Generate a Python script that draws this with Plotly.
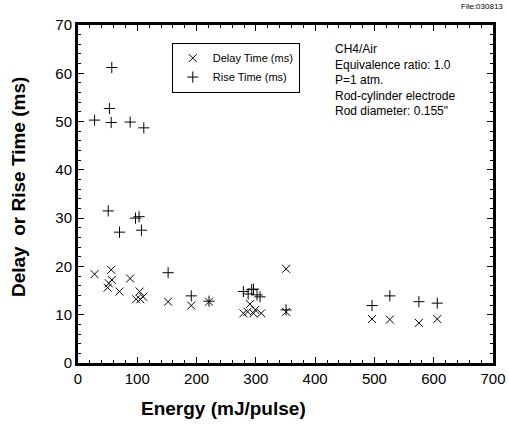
import plotly.graph_objects as go

delay_energy = [28, 50, 52, 56, 57, 70, 88, 98, 104, 105, 110, 152, 191, 221,
                279, 286, 290, 296, 299, 309, 351, 351, 496, 526, 575, 606]
delay_time = [18.4, 15.6, 16.5, 19.3, 17.2, 14.8, 17.5, 13.2, 14.8, 13.2, 13.7,
              12.7, 11.9, 12.7, 10.3, 10.6, 12.2, 10.3, 11.0, 10.3, 19.5, 10.6,
              9.1, 9.0, 8.3, 9.1]

rise_energy = [28, 51, 53, 56, 57, 70, 88, 97, 103, 107, 111, 152, 191, 221,
               279, 287, 293, 296, 302, 307, 351, 496, 526, 575, 606]
rise_time = [50.3, 31.5, 52.7, 49.8, 61.2, 27.1, 49.9, 30.0, 30.3, 27.5, 48.7,
             18.7, 13.9, 12.8, 14.8, 14.3, 15.2, 15.3, 14.1, 13.7, 11.0, 11.9,
             13.9, 12.7, 12.4]

info_lines = ["CH4/Air", "Equivalence ratio: 1.0", "P=1 atm.",
              "Rod-cylinder electrode", "Rod diameter: 0.155\""]

FONT = "Liberation Sans, Arial, sans-serif"

fig = go.Figure()
fig.add_trace(go.Scatter(
    x=delay_energy, y=delay_time, mode="markers", name="Delay Time (ms)",
    marker=dict(symbol="x-thin", size=8, color="black",
                line=dict(color="black", width=1))))
fig.add_trace(go.Scatter(
    x=rise_energy, y=rise_time, mode="markers", name="Rise Time (ms)",
    marker=dict(symbol="cross-thin", size=8, color="black",
                line=dict(color="black", width=1))))

axis_common = dict(
    showgrid=False, zeroline=False, showline=True, linecolor="black",
    linewidth=3, mirror="allticks", ticks="inside", ticklen=6, tickwidth=1,
    tickcolor="black", tickfont=dict(family=FONT, size=15, color="black"),
    automargin=False,
)

fig.update_layout(
    width=509, height=425,
    margin=dict(l=78, r=16, t=25, b=62),
    paper_bgcolor="white", plot_bgcolor="white",
    font=dict(family=FONT, color="black"),
    xaxis=dict(range=[0, 700], dtick=100, tick0=0,
               minor=dict(dtick=20, ticklen=3, ticks="inside", tickcolor="black"),
               **axis_common),
    yaxis=dict(range=[0, 70], dtick=10, tick0=0,
               minor=dict(dtick=2, ticklen=3, ticks="inside", tickcolor="black"),
               **axis_common),
    showlegend=True,
    legend=dict(x=0.226, y=0.948, xanchor="left", yanchor="top",
                bordercolor="black", borderwidth=1, bgcolor="white",
                font=dict(family=FONT, size=11, color="black"),
                tracegroupgap=4, itemwidth=30),
)

fig.add_annotation(text="Energy (mJ/pulse)", xref="paper", yref="paper",
                   x=(223 - 78) / 415, y=-0.135, xanchor="center", yanchor="middle",
                   showarrow=False,
                   font=dict(family=FONT, size=19, color="black", weight="bold"))
fig.add_annotation(text="Delay\u00a0\u00a0or Rise Time (ms)", xref="paper", yref="paper",
                   x=-0.145, y=0.52, xanchor="center", yanchor="middle",
                   textangle=-90, showarrow=False,
                   font=dict(family=FONT, size=19, color="black", weight="bold"))
fig.add_annotation(text="File:030813", xref="paper", yref="paper",
                   x=1.03, y=1.055, xanchor="right", yanchor="middle",
                   showarrow=False, font=dict(family=FONT, size=8, color="black"))
fig.add_annotation(text="<br>".join(info_lines), xref="paper", yref="paper",
                   x=(333 - 78) / 415, y=(363 - 40) / 338, xanchor="left", yanchor="top",
                   align="left", showarrow=False,
                   font=dict(family=FONT, size=12, color="black"))

fig.write_html("out.html", config={"displayModeBar": False},
               post_script="document.body.style.margin='0';document.body.style.padding='0';")
